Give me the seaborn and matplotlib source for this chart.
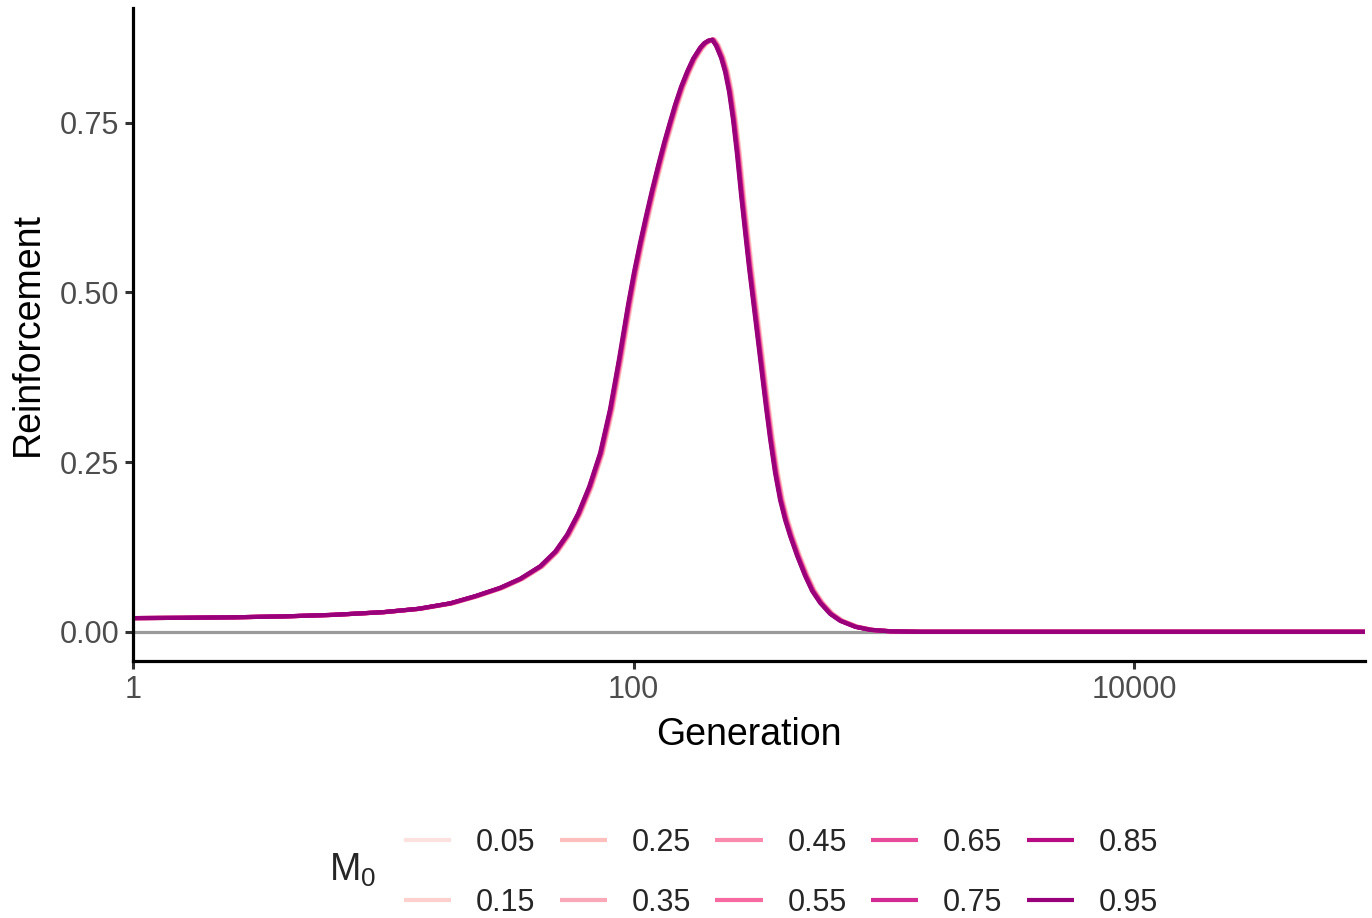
import numpy as np
import pandas as pd
import matplotlib
matplotlib.use("Agg")
import matplotlib.pyplot as plt
import seaborn as sns

# ---- data ----
m0_levels = [0.05, 0.15, 0.25, 0.35, 0.45, 0.55, 0.65, 0.75, 0.85, 0.95]
# small rightward offset of the lighter curves (multiplicative on generation)
gen_scale = [1.028, 1.025, 1.022, 1.019, 1.016, 1.013, 1.010, 1.007, 1.004, 1.000]

generation = [1.000, 1.585, 2.510, 3.976, 6.298, 9.98, 13.77, 18.49, 23.26, 29.28,
              35.20, 42.30, 48.57, 54.24, 60.00, 66.42, 73.48, 80.55, 87.52, 95.06,
              100.5, 106.2, 112.2, 118.6, 125.3, 132.4, 139.9, 146.5, 154.8, 163.6,
              172.9, 184.4, 191.3, 198.5, 206.0,
              213.6, 223.7, 232.1, 240.8, 249.8, 259.2, 268.9, 279.0, 289.4, 303.1,
              314.5, 326.2, 338.5, 351.2, 367.7, 385.0, 403.2, 422.1, 450.2, 484.5,
              516.7, 556.4, 609.8, 668.7, 767.6, 881.4, 1059, 1396, 2914, 83750]
reinforcement = [0.0202, 0.0206, 0.0214, 0.0227, 0.0250, 0.0290, 0.0339, 0.0420, 0.0525, 0.0648,
                 0.0781, 0.0965, 0.1180, 0.1431, 0.1739, 0.2135, 0.2630, 0.3280, 0.4022, 0.4818,
                 0.5304, 0.5732, 0.6129, 0.6512, 0.6866, 0.7205, 0.7514, 0.7765, 0.8030, 0.8251,
                 0.8443, 0.8605, 0.8671, 0.8708, 0.8723,
                 0.8634, 0.8457, 0.8251, 0.7956, 0.7544, 0.7028, 0.6439, 0.5894, 0.5363, 0.4759,
                 0.4273, 0.3787, 0.3300, 0.2844, 0.2343, 0.1945, 0.1650, 0.1414, 0.1120, 0.0825,
                 0.0604, 0.0427, 0.0265, 0.0162, 0.0074, 0.0029, 0.0007, 0.0, 0.0, 0.0]

x_ticks = [1, 100, 10000]
x_tick_labels = ["1", "100", "10000"]
y_ticks = [0.0, 0.25, 0.50, 0.75]
y_tick_labels = ["0.00", "0.25", "0.50", "0.75"]

rows = []
for m, s in zip(m0_levels, gen_scale):
    for g, r in zip(generation, reinforcement):
        rows.append((g * s, r, f"{m:.2f}"))
df = pd.DataFrame(rows, columns=["Generation", "Reinforcement", "M0"])

sns.set_theme(style="white")
plt.rcParams['font.family'] = ['Liberation Sans', 'DejaVu Sans']
plt.rcParams['mathtext.fontset'] = 'custom'
plt.rcParams['mathtext.rm'] = 'Liberation Sans'
plt.rcParams['mathtext.it'] = 'Liberation Sans'

W, H = 1372, 918
fig = plt.figure(figsize=(W / 100, H / 100), dpi=100)
ax = fig.add_axes([133 / W, 1 - 661 / H, (1365 - 133) / W, (661 - 8) / H])

palette = [plt.cm.RdPu(v) for v in np.linspace(0.12, 0.80, len(m0_levels))]

ax.axhline(0, color="#9a9a9a", lw=2.3, zorder=1)
sns.lineplot(data=df, x="Generation", y="Reinforcement", hue="M0",
             palette=palette, estimator=None, lw=3.0, ax=ax, zorder=2)
for ln in ax.get_lines():
    ln.set_solid_joinstyle("round")
    ln.set_solid_capstyle("butt")

ax.set_xscale("log")
ax.set_xlim(1, 10 ** 4.923)
ax.set_ylim(-0.043, 0.919)
ax.set_xticks(x_ticks)
ax.set_xticklabels(x_tick_labels)
ax.xaxis.set_minor_locator(matplotlib.ticker.NullLocator())
ax.set_yticks(y_ticks)
ax.set_yticklabels(y_tick_labels)

for side in ["top", "right"]:
    ax.spines[side].set_visible(False)
for side in ["left", "bottom"]:
    ax.spines[side].set_color("black")
    ax.spines[side].set_linewidth(2.3)

ax.tick_params(axis="both", which="major", length=6, width=2.2, color="#333333",
               labelsize=22, labelcolor="#4D4D4D", pad=4, bottom=True, left=True)

ax.set_xlabel("Generation", fontsize=27, color="black", labelpad=9)
ax.set_ylabel("Reinforcement", fontsize=27, color="black", labelpad=10)

handles, labels = ax.get_legend_handles_labels()
ax.legend_.remove()
for h in handles:
    h.set_linewidth(3.0)
fig.legend(handles, labels, ncol=5, loc="center",
           bbox_to_anchor=(781 / W, 1 - 873 / H), frameon=False,
           fontsize=22, handlelength=1.55, handletextpad=0.8,
           columnspacing=0.8, labelspacing=0.98)
fig.text(329 / W, 1 - 870 / H, r"$\mathrm{M}_0$", fontsize=27, ha="left", va="center")

fig.savefig("out.png", dpi=100, facecolor="white")
